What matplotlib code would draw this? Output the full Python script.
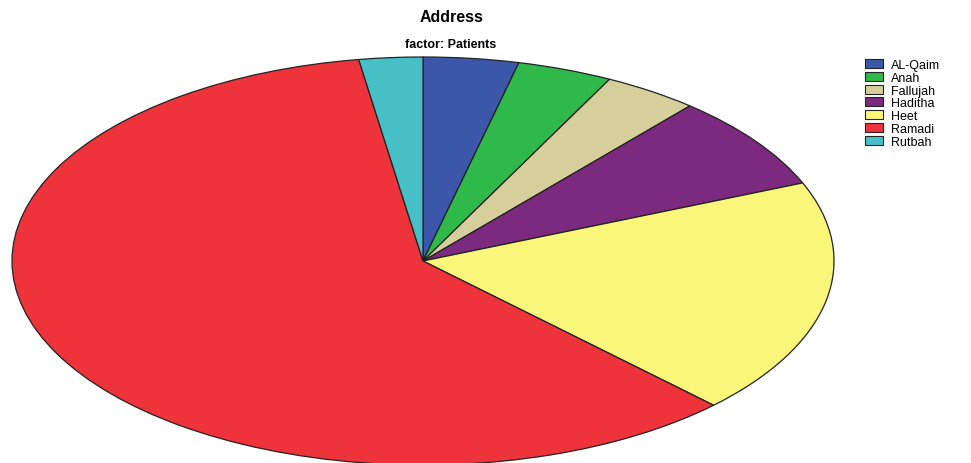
import matplotlib.pyplot as plt

plt.rcParams["font.family"] = ["Liberation Sans", "DejaVu Sans"]

# Patients per town
towns = ["AL-Qaim", "Anah", "Fallujah", "Haditha", "Heet", "Ramadi", "Rutbah"]
patients = [3, 3, 3, 6, 15, 48, 2]
colors = ["#3c57a9", "#2fb94b", "#d6cf9c", "#7b2a7f", "#faf67a", "#ee333a", "#46bfc6"]

W, H = 971, 464
fig = plt.figure(figsize=(W / 100, H / 100), dpi=100)

# Axes placed so the unit pie becomes a wide ellipse
cx, cy = 423, 262  # center in pixels from top-left
rx, ry = 411, 204
ax = fig.add_axes([(cx - rx) / W, (H - cy - ry) / H, 2 * rx / W, 2 * ry / H])

wedges, _ = ax.pie(
    patients,
    colors=colors,
    startangle=90,
    counterclock=False,
    radius=1.0,
    wedgeprops=dict(edgecolor="#222222", linewidth=0.9),
)
ax.set_aspect("auto")
ax.set_xlim(-1, 1)
ax.set_ylim(-1, 1)
ax.axis("off")

fig.text(452 / W, 1 - 18 / H, "Address", ha="center", va="center",
         fontsize=11.5, fontweight="bold")
fig.text(451 / W, 1 - 45 / H, "factor: Patients", ha="center", va="center",
         fontsize=9, fontweight="bold")

leg = fig.legend(
    wedges,
    towns,
    loc="upper left",
    bbox_to_anchor=(865 / W, 1 - 60 / H),
    frameon=False,
    fontsize=9,
    handlelength=1.45,
    handleheight=0.72,
    handletextpad=0.6,
    labelspacing=0.06,
    borderaxespad=0,
    borderpad=0,
)
for h in leg.legend_handles:
    h.set_edgecolor("#222222")
    h.set_linewidth(0.8)

fig.savefig("out.png", dpi=100)
